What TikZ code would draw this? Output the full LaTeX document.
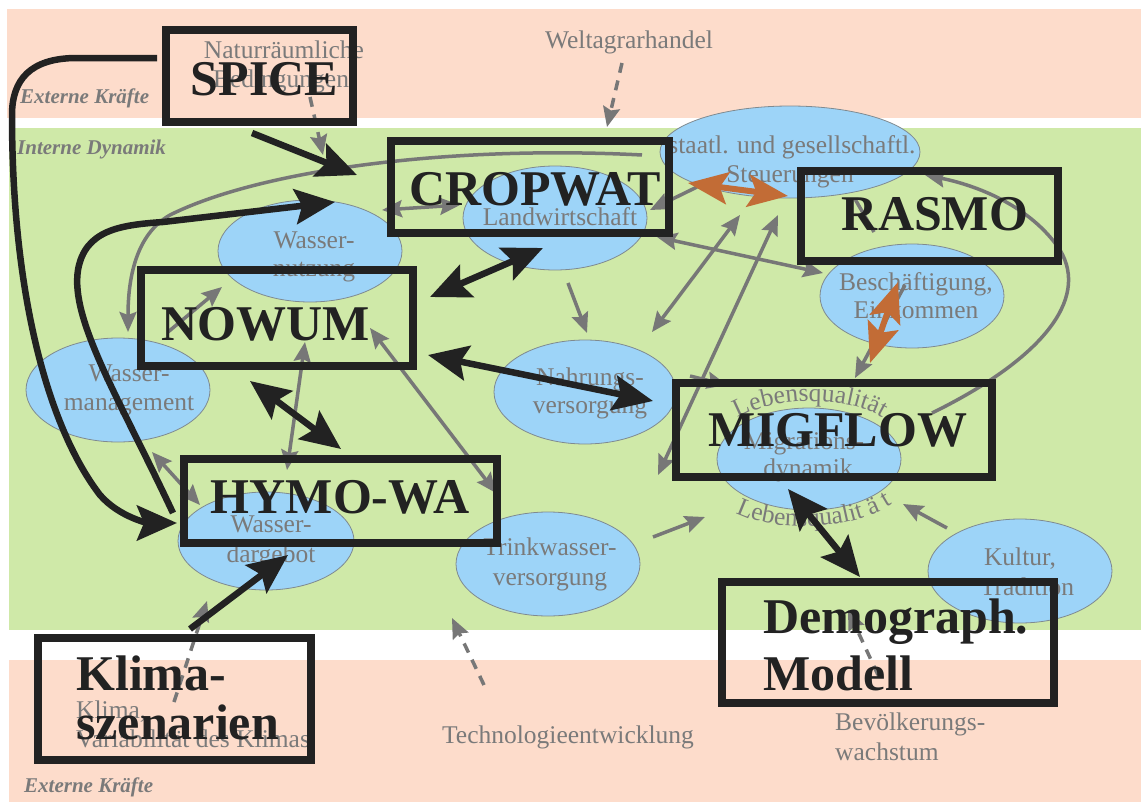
\documentclass[tikz,border=0pt]{standalone}
\usepackage{fontspec}
\setmainfont{Liberation Serif}
\usetikzlibrary{arrows.meta,shapes.geometric,decorations.text}
\definecolor{peach}{HTML}{FDDCCB}
\definecolor{lgreen}{HTML}{CFE9A8}
\definecolor{eblue}{HTML}{9DD4F8}
\definecolor{eborder}{HTML}{7F8A90}
\definecolor{tgrey}{HTML}{7A7A7A}
\definecolor{agrey}{HTML}{777777}
\definecolor{boxc}{HTML}{222222}
\definecolor{orng}{HTML}{C26C36}
\begin{document}
\begin{tikzpicture}[x=1pt,y=-1pt,
 ell/.style={ellipse, draw=eborder, fill=eblue, line width=0.8pt, inner sep=0pt},
 etxt/.style={text=tgrey, font=\fontsize{25.5}{28}\selectfont, anchor=base, inner sep=0pt},
 etxtl/.style={etxt, anchor=base west},
 btxt/.style={text=boxc, font=\bfseries\fontsize{50}{55}\selectfont, anchor=base, inner sep=0pt},
 btxtl/.style={btxt, anchor=base west},
 bandtxt/.style={text=tgrey, font=\bfseries\itshape\fontsize{21}{24}\selectfont, anchor=base west, inner sep=0pt},
 mbox/.style={draw=boxc, line width=8pt, inner sep=0pt},
 garr/.style={draw=agrey, line width=3.5pt, -{Stealth[length=20pt,width=17pt,inset=3pt]}},
 gdbl/.style={draw=agrey, line width=3.5pt, {Stealth[length=20pt,width=17pt,inset=3pt]}-{Stealth[length=20pt,width=17pt,inset=3pt]}},
 gdash/.style={garr, dash pattern=on 10pt off 8pt},
 barr/.style={draw=boxc, line width=6.5pt, -{Stealth[length=40pt,width=35pt,inset=7pt]}},
 bdbl/.style={draw=boxc, line width=6.5pt, {Stealth[length=40pt,width=35pt,inset=7pt]}-{Stealth[length=40pt,width=35pt,inset=7pt]}},
 odbl/.style={draw=orng, line width=6pt, {Stealth[length=40pt,width=32pt,inset=8pt]}-{Stealth[length=40pt,width=32pt,inset=8pt]}},
]
\useasboundingbox (0,0) rectangle (1141,803);
\fill[white] (0,0) rectangle (1141,803);
% bands
\fill[peach] (7,9) rectangle (1141,118);
\fill[lgreen] (9,128) rectangle (1141,630);
\fill[peach] (9,660) rectangle (1141,802);

\node[bandtxt] (ext1) at (20,103) {Externe Kräfte};
\node[bandtxt] (int1) at (17,154) {Interne Dynamik};
\node[bandtxt] (ext2) at (24,792) {Externe Kräfte};

% external texts
\node[etxt] (natur1) at (284,58) {Naturräumliche};
\node[etxt] (natur2) at (281,87) {Bedingungen};
\node[etxt] (welt) at (629,48) {Weltagrarhandel};
\node[etxt] (tech) at (568,743) {Technologieentwicklung};
\node[etxtl] (bev1) at (835,730) {Bevölkerungs-};
\node[etxtl] (bev2) at (835,760) {wachstum};
\node[etxtl] (kl1) at (76,718) {Klima,};
\node[etxtl] (kl2) at (76,747) {Variabilität des Klimas};

% ellipses
\node[ell, minimum width=184pt, minimum height=102pt] (enutz) at (310,251) {};
\node[ell, minimum width=184pt, minimum height=104pt] (eland) at (555,218) {};
\node[ell, minimum width=260pt, minimum height=92pt] (estaat) at (790,152) {};
\node[ell, minimum width=184pt, minimum height=104pt] (ebesch) at (912,296) {};
\node[ell, minimum width=184pt, minimum height=104pt] (emgmt) at (118,390) {};
\node[ell, minimum width=182pt, minimum height=104pt] (enahr) at (585,392) {};
\node[ell, minimum width=184pt, minimum height=102pt] (emigr) at (809,459) {};
\node[ell, minimum width=176pt, minimum height=98pt] (edarg) at (266,541) {};
\node[ell, minimum width=184pt, minimum height=104pt] (etrink) at (548,564) {};
\node[ell, minimum width=184pt, minimum height=104pt] (ekult) at (1020,571) {};

% ellipse texts
\node[etxt] (tnutz1) at (314,248) {Wasser-};
\node[etxt] (tnutz2) at (314,276) {nutzung};
\node[etxt] (tland) at (560,225) {Landwirtschaft};
\node[etxt] (tstaat1) at (792,153) {staatl. und gesellschaftl.};
\node[etxt] (tstaat2) at (790,182) {Steuerungen};
\node[etxt] (tbesch1) at (916,290) {Beschäftigung,};
\node[etxt] (tbesch2) at (916,318) {Einkommen};
\node[etxt] (tmgmt1) at (129,381) {Wasser-};
\node[etxt] (tmgmt2) at (129,410) {management};
\node[etxt] (tnahr1) at (590,385) {Nahrungs-};
\node[etxt] (tnahr2) at (590,413) {versorgung};
\node[etxt] (tmigr1) at (804,449) {Migrations-};
\node[etxt] (tmigr2) at (808,476) {dynamik};
\node[etxt] (tdarg1) at (271,532) {Wasser-};
\node[etxt] (tdarg2) at (271,562) {dargebot};
\node[etxt] (ttrink1) at (550,555) {Trinkwasser-};
\node[etxt] (ttrink2) at (550,585) {versorgung};
\node[etxt] (tkult1) at (1020,565) {Kultur,};
\node[etxt] (tkult2) at (1027,595) {Tradition};

% curved labels
\path[decorate, decoration={text along path, text align=center,
  text={|\fontsize{25.5}{28}\selectfont\color{tgrey}|Lebensqualität}}]
  (726,426) .. controls (764,394) and (856,392) .. (894,426);
\path[decorate, decoration={text along path, text align=center,
  text={|\fontsize{25.5}{28}\selectfont\color{tgrey}|Lebensqualit ä t}}]
  (734,512) .. controls (775,534) and (852,531) .. (894,503);

% coordinates for grey connectors
\coordinate (g1a) at (642,155);
\coordinate (g1b) at (128,332);
\coordinate (g2a) at (932,413);
\coordinate (g2b) at (925,175);
\coordinate (nl1) at (382,210); \coordinate (nl2) at (460,205);
\coordinate (mn1) at (168,332); \coordinate (mn2) at (222,287);
\coordinate (nh1) at (305,342); \coordinate (nh2) at (287,470);
\coordinate (nt1) at (370,328); \coordinate (nt2) at (496,493);
\coordinate (md1) at (152,452); \coordinate (md2) at (200,505);
\coordinate (ln1) at (568,283); \coordinate (ln2) at (587,333);
\coordinate (sl1) at (697,187); \coordinate (sl2) at (650,210);
\coordinate (lb1) at (657,237); \coordinate (lb2) at (823,273);
\coordinate (ns1) at (652,332); \coordinate (ns2) at (740,215);
\coordinate (ms1) at (658,475); \coordinate (ms2) at (778,215);
\coordinate (nm1) at (690,376); \coordinate (nm2) at (727,385);
\coordinate (tm1) at (653,537); \coordinate (tm2) at (705,517);
\coordinate (km1) at (947,528); \coordinate (km2) at (903,504);
\coordinate (bm1) at (905,285); \coordinate (bm2) at (855,378);
\coordinate (rs1) at (855,199); \coordinate (rs2) at (874,232);
% dashed
\coordinate (dw1) at (622,63); \coordinate (dw2) at (607,127);
\coordinate (dn1) at (310,97); \coordinate (dn2) at (323,155);
\coordinate (dt1) at (484,685); \coordinate (dt2) at (452,618);
\coordinate (dk1) at (174,702); \coordinate (dk2) at (207,601);
\coordinate (db1) at (878,675); \coordinate (db2) at (848,610);

\draw[gdash] (dw1) -- (dw2);
\draw[gdash] (dn1) -- (dn2);
\draw[gdash] (dt1) -- (dt2);
\draw[gdash] (dk1) -- (dk2);
\draw[gdash] (db1) -- (db2);

\draw[garr] (g1a) .. controls (450,145) and (260,170) .. (170,215) .. controls (135,235) and (128,280) .. (g1b);
\draw[garr] (g2a) .. controls (1040,360) and (1090,300) .. (1060,250) .. controls (1030,205) and (975,185) .. (g2b);
\draw[gdbl] (nl1) -- (nl2);
\draw[garr] (mn1) -- (mn2);
\draw[gdbl] (nh1) -- (nh2);
\draw[gdbl] (nt1) -- (nt2);
\draw[gdbl] (md1) -- (md2);
\draw[garr] (ln1) -- (ln2);
\draw[garr] (sl1) -- (sl2);
\draw[gdbl] (lb1) -- (lb2);
\draw[gdbl] (ns1) -- (ns2);
\draw[gdbl] (ms1) -- (ms2);
\draw[garr] (nm1) -- (nm2);
\draw[garr] (tm1) -- (tm2);
\draw[garr] (km1) -- (km2);
\draw[garr] (bm1) -- (bm2);
\draw[draw=agrey, line width=3.5pt] (rs1) -- (rs2);

% orange connectors
\coordinate (os1) at (688,183); \coordinate (os2) at (788,196);
\coordinate (ob1) at (898,282); \coordinate (ob2) at (870,363);
\draw[odbl] (os1) -- (os2);
\draw[odbl] (ob1) -- (ob2);

% model boxes
\node[mbox, minimum width=187pt, minimum height=92pt] (bspice) at (259.5,76) {};
\node[mbox, minimum width=278pt, minimum height=92pt] (bcrop) at (530,187) {};
\node[mbox, minimum width=257pt, minimum height=90pt] (brasmo) at (929.5,216) {};
\node[mbox, minimum width=272pt, minimum height=96pt] (bnowum) at (277,318) {};
\node[mbox, minimum width=313pt, minimum height=84pt] (bhymo) at (340.5,501) {};
\node[mbox, minimum width=316pt, minimum height=94pt] (bmig) at (834,430) {};
\node[mbox, minimum width=332pt, minimum height=121pt] (bdemo) at (888,642.5) {};
\node[mbox, minimum width=273pt, minimum height=122pt] (bklima) at (174.5,699) {};

\node[btxt] (lspice) at (264.5,95) {SPICE};
\node[btxt] (lcrop) at (535,205) {CROPWAT};
\node[btxt] (lrasmo) at (935,230) {RASMO};
\node[btxt] (lnowum) at (266,340) {NOWUM};
\node[btxt] (lhymo) at (340,513) {HYMO-WA};
\node[btxt] (lmig) at (838,446) {MIGFLOW};
\node[btxtl] (ldemo1) at (763,633) {Demograph.};
\node[btxtl] (ldemo2) at (763,690) {Modell};
\node[btxtl] (lkl1) at (76,690) {Klima-};
\node[btxtl] (lkl2) at (76,739) {szenarien};

% black connectors
\coordinate (sc1) at (252,133); \coordinate (sc2) at (357,175);
\coordinate (sa1) at (157,58); \coordinate (sa2) at (177,523);
\coordinate (hb1) at (173,513); \coordinate (hb2) at (335,202);
\coordinate (cn1) at (430,297); \coordinate (cn2) at (543,248);
\coordinate (nm3) at (428,355); \coordinate (nm4) at (653,401);
\coordinate (nhy1) at (250,381); \coordinate (nhy2) at (341,449);
\coordinate (kd1) at (190,629); \coordinate (kd2) at (288,555);
\coordinate (mdm1) at (788,489); \coordinate (mdm2) at (860,577);

\draw[barr] (sc1) -- (sc2);
\draw[barr] (sa1) -- (77,58) .. controls (30,58) and (12,80) .. (12,115) .. controls (12,300) and (50,430) .. (100,495) .. controls (120,518) and (150,523) .. (sa2);
\draw[barr] (hb1) .. controls (120,400) and (70,320) .. (78,270) .. controls (85,230) and (120,225) .. (163,222) -- (hb2);
\draw[bdbl] (cn1) -- (cn2);
\draw[bdbl] (nm3) -- (nm4);
\draw[bdbl] (nhy1) -- (nhy2);
\draw[barr] (kd1) -- (kd2);
\draw[bdbl] (mdm1) -- (mdm2);
\end{tikzpicture}
\end{document}
